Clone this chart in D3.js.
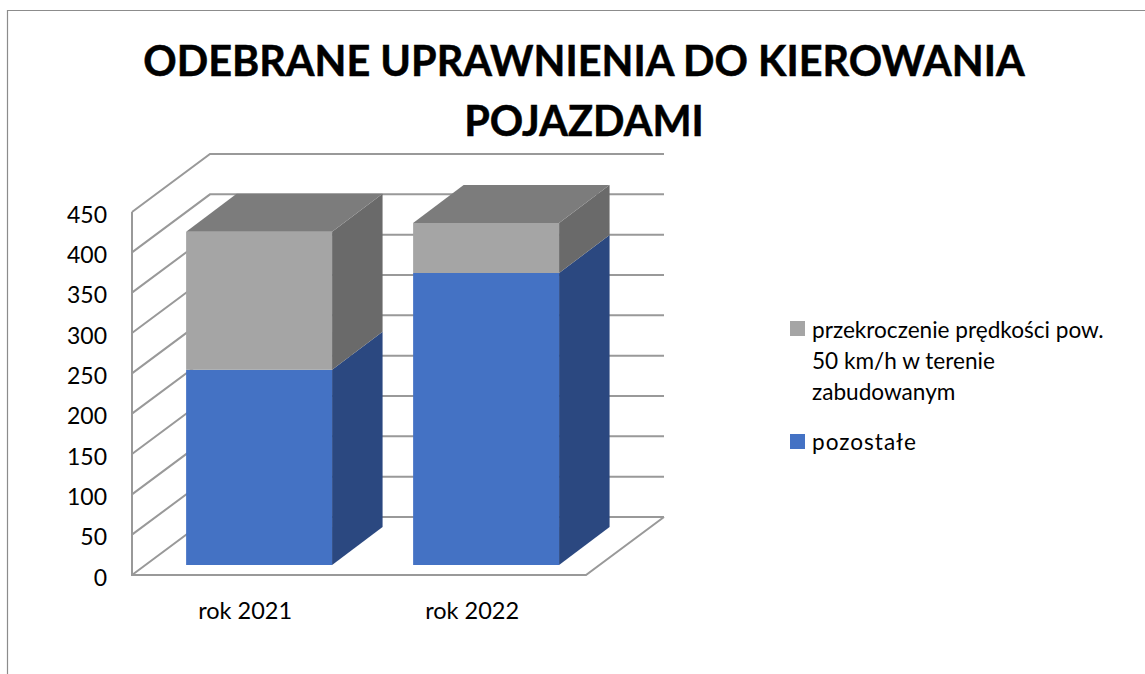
<!DOCTYPE html>
<html><head><meta charset="utf-8">
<script src="https://cdn.jsdelivr.net/npm/d3@7"></script>
<style>html,body{margin:0;padding:0;background:#fff;overflow:hidden}svg{display:block}text{font-family:Lato,"Open Sans",sans-serif;fill:#000}</style>
</head><body><svg id="c" width="1145" height="674"></svg>
<script>
const titleLines = ["ODEBRANE UPRAWNIENIA DO KIEROWANIA", "POJAZDAMI"];
const categories = ["rok 2021", "rok 2022"];
const pozostale = [242, 362];
const przekroczenie = [171, 62];
const yTicks = [0, 50, 100, 150, 200, 250, 300, 350, 400, 450];
const legendLines = ["przekroczenie prędkości pow.", "50 km/h w terenie", "zabudowanym"];
const legendOther = "pozostałe";

const svg = d3.select("#c");
const gridCol = "#999999";
// oblique projection: wall depth and bar depth
const wall = {dx: 78, dy: -58};
const barDepth = {dx: 50.5, dy: -38};
const barOffset = {dx: 13.6, dy: -10};
const pLeft = 132, pRight = 586, pBottom = 575, pTop = 212;

const y = d3.scaleLinear().domain([0, 450]).range([pBottom, pTop]);
const x = d3.scaleBand().domain(categories).range([pLeft + barOffset.dx, pRight + barOffset.dx]).paddingInner(0.357).paddingOuter(0.1785);

// frame
svg.append("path").attr("d", "M7.5,674V10.5H1145").attr("fill", "none").attr("stroke", "#8c8c8c").attr("stroke-width", 1.2);

// title
svg.selectAll("text.title").data(titleLines).join("text").attr("class", "title")
  .attr("x", 584).attr("y", (d, i) => 76 + i * 60).attr("text-anchor", "middle")
  .attr("font-size", 41.4).attr("font-weight", 700).style("stroke", "#000").style("stroke-width", 0.5).text(d => d);

// grid: side wall + back wall
const g = svg.append("g").attr("fill", "none").attr("stroke", gridCol).attr("stroke-width", 2);
g.selectAll("path.grid").data(yTicks).join("path").attr("class", "grid")
  .attr("d", v => `M${pLeft},${y(v)}L${pLeft + wall.dx},${y(v) + wall.dy}L${pRight + wall.dx},${y(v) + wall.dy}`);
g.append("path").attr("d", `M${pLeft},${pTop}V${pBottom}H${pRight}L${pRight + wall.dx},${pBottom + wall.dy}`);

// tick labels
svg.selectAll("text.tick").data(yTicks).join("text").attr("class", "tick")
  .attr("x", 107).attr("y", v => y(v) + 2.5).attr("dy", "0.35em").attr("text-anchor", "end")
  .attr("font-size", 23).text(v => v);

// category labels
svg.selectAll("text.cat").data(categories).join("text").attr("class", "cat")
  .attr("x", d => x(d) + x.bandwidth() / 2 - 14).attr("y", 619).attr("text-anchor", "middle")
  .attr("font-size", 23.5).text(d => d);

// bars
const poly = pts => "M" + pts.map(p => p.join(",")).join("L") + "Z";
const segments = (i) => [
  {from: 0, to: pozostale[i], front: "#4472C4", side: "#2B4880", cap: "#2F5597"},
  {from: pozostale[i], to: pozostale[i] + przekroczenie[i], front: "#A5A5A5", side: "#6A6A6A", cap: "#7C7C7C"}
];
categories.forEach((c, i) => {
  const x0 = x(c), x1 = x0 + x.bandwidth();
  const gb = svg.append("g");
  segments(i).forEach((s, k, arr) => {
    const yb = y(s.from) + barOffset.dy, yt = y(s.to) + barOffset.dy;
    gb.append("path").attr("fill", s.side).attr("d", poly([[x1, yb], [x1 + barDepth.dx, yb + barDepth.dy], [x1 + barDepth.dx, yt + barDepth.dy], [x1, yt]]));
    gb.append("rect").attr("x", x0).attr("y", yt).attr("width", x1 - x0).attr("height", yb - yt).attr("fill", s.front);
    if (k === arr.length - 1)
      gb.append("path").attr("fill", s.cap).attr("d", poly([[x0, yt], [x0 + barDepth.dx, yt + barDepth.dy], [x1 + barDepth.dx, yt + barDepth.dy], [x1, yt]]));
  });
});

// legend
const leg = svg.append("g");
leg.append("rect").attr("x", 790).attr("y", 321).attr("width", 15).attr("height", 15).attr("fill", "#A5A5A5");
leg.selectAll("text.l").data(legendLines).join("text").attr("class", "l")
  .attr("x", 812).attr("y", (d, i) => 338 + i * 31).attr("font-size", 22.6).text(d => d);
leg.append("rect").attr("x", 790).attr("y", 434).attr("width", 15).attr("height", 15).attr("fill", "#4472C4");
leg.append("text").attr("x", 812).attr("y", 450).attr("font-size", 22.6).attr("textLength", 104).text(legendOther);
</script></body></html>
